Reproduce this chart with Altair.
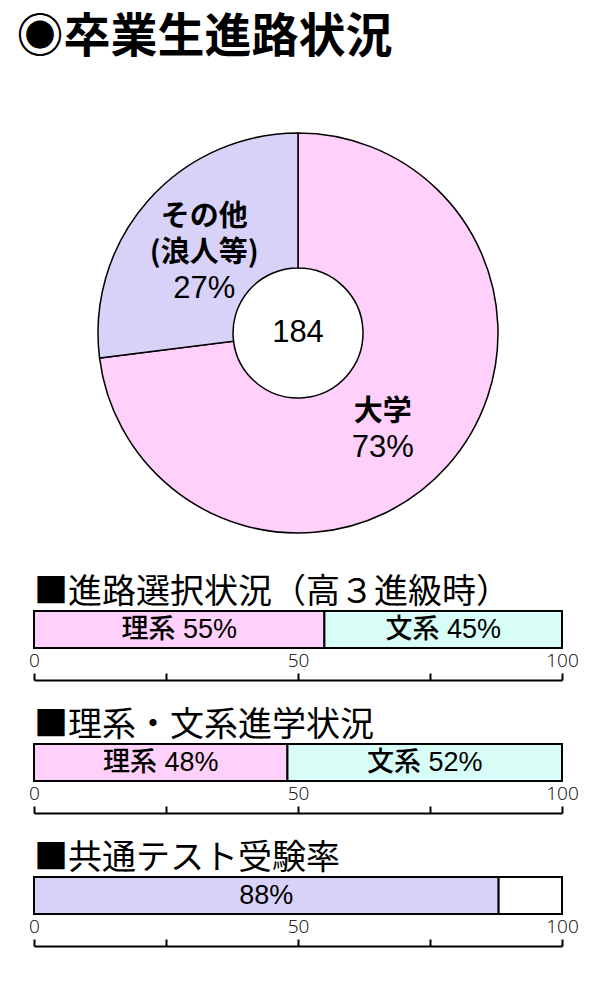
import altair as alt
import pandas as pd

# ---- data ----
main_title = "◉卒業生進路状況"
donut_cats = ["大学", "その他"]
donut_vals = [73, 27]
donut_label_lines = [["大学", "73%"], ["その他", "(浪人等)", "27%"]]
total_students = "184"

sec_titles = ["■進路選択状況（高３進級時）", "■理系・文系進学状況", "■共通テスト受験率"]
sec1_cats = ["理系", "文系"]
sec1_vals = [55, 45]
sec1_labels = ["理系 55%", "文系 45%"]
sec2_cats = ["理系", "文系"]
sec2_vals = [48, 52]
sec2_labels = ["理系 48%", "文系 52%"]
sec3_cats = ["受験", "未受験"]
sec3_vals = [88, 12]
sec3_labels = ["88%", ""]
axis_ticks = [0, 25, 50, 75, 100]

# ---- styles ----
PINK = "#FFD0FA"
LAV = "#D8D2F8"
CYAN = "#D8FCF6"
WHITE = "#FFFFFF"
JP = "Noto Sans CJK JP"
MIX = "Liberation Sans, Noto Sans CJK JP"
label_nudge = [(-9, 14), (0, 3)]  # per-slice label placement tweak (dx, dy)

# ---- donut ----
max_lines = max(len(l) for l in donut_label_lines)
ddf = pd.DataFrame({"cat": donut_cats, "val": donut_vals,
                    "order": list(range(len(donut_cats)))})
for j in range(max_lines):
    ddf[f"l{j}"] = [l[j] if j < len(l) else "" for l in donut_label_lines]

theta_scale = alt.Scale(domain=[0, 100])
arcs = alt.Chart(ddf).mark_arc(outerRadius=200, innerRadius=65, stroke="black",
                               strokeWidth=1.5).encode(
    theta=alt.Theta("val:Q", stack=True, scale=theta_scale),
    order=alt.Order("order:Q"),
    color=alt.Color("cat:N", scale=alt.Scale(domain=donut_cats, range=[PINK, LAV]), legend=None),
)

LH = 36
label_layers = []
for i, cat in enumerate(donut_cats):
    lines = donut_label_lines[i]
    n = len(lines)
    ndx, ndy = label_nudge[i]
    for j, line in enumerate(lines):
        is_pct = line.endswith("%")
        lay = alt.Chart(ddf).transform_stack(
            stack="val", groupby=[], as_=["a0", "a1"], sort=[alt.SortField("order")]
        ).transform_calculate(mid="(datum.a0 + datum.a1) / 2").transform_filter(
            alt.datum.cat == cat
        ).mark_text(
            radius=125, dx=ndx, dy=(j - (n - 1) / 2) * LH + ndy,
            font="Liberation Sans" if is_pct else JP,
            fontSize=31 if is_pct else 29,
            fontWeight="normal" if is_pct else "bold",
            color="black",
        ).encode(
            theta=alt.Theta("mid:Q", scale=theta_scale),
            text=alt.Text(f"l{j}:N"),
        )
        label_layers.append(lay)

center = alt.Chart(pd.DataFrame({"t": [total_students]})).mark_text(
    font="Liberation Sans", fontSize=31, color="black").encode(text="t:N")
donut = alt.layer(arcs, *label_layers, center).properties(width=528, height=400)


def section(title, cats, vals, labels, colors):
    df = pd.DataFrame({"cat": cats, "val": vals, "label": labels,
                       "order": list(range(len(cats))), "row": ["r"] * len(cats)})
    base = alt.Chart(df).transform_stack(
        stack="val", groupby=["row"], as_=["x0", "x1"], sort=[alt.SortField("order")]
    ).transform_calculate(mid="(datum.x0 + datum.x1) / 2")
    yenc = alt.Y("row:N", axis=None, scale=alt.Scale(paddingInner=0, paddingOuter=0))
    bars = base.mark_bar(stroke="black", strokeWidth=2).encode(
        x=alt.X("x0:Q", scale=alt.Scale(domain=[0, 100]),
                axis=alt.Axis(orient="top", offset=-69, values=axis_ticks,
                              labelExpr="datum.value % 50 == 0 ? datum.label : ''",
                              grid=False, title=None, domainColor="black", domainWidth=2,
                              tickColor="black", tickWidth=2, tickSize=7,
                              labelFontSize=19, labelColor="black", labelPadding=3,
                              labelFlush=False, labelFont="Open Sans", labelFontWeight=300)),
        x2="x1:Q",
        y=yenc,
        color=alt.Color("cat:N", scale=alt.Scale(domain=cats, range=colors), legend=None),
    )
    text = base.mark_text(font=MIX, fontSize=27, fontWeight=500, color="black").encode(
        x="mid:Q", y=yenc, text="label:N")
    return alt.layer(bars, text).properties(
        width=528, height=37,
        title=alt.TitleParams(title, anchor="start", frame="group", fontSize=34,
                              fontWeight="normal", font=JP, color="black", offset=0),
    )


s1 = section(sec_titles[0], sec1_cats, sec1_vals, sec1_labels, [PINK, CYAN])
s2 = section(sec_titles[1], sec2_cats, sec2_vals, sec2_labels, [PINK, CYAN])
s3 = section(sec_titles[2], sec3_cats, sec3_vals, sec3_labels, [LAV, WHITE])

bars_block = alt.vconcat(s1, s2, s3, spacing=28).resolve_scale(color="independent")

chart = alt.vconcat(donut, bars_block, spacing=40).resolve_scale(
    color="independent"
).properties(
    title=alt.TitleParams(main_title, anchor="start", fontSize=47, fontWeight="bold",
                          font=JP, color="black", offset=68, dx=-12),
    padding={"left": 8, "top": 6, "right": 5, "bottom": 5},
).configure_view(stroke=None)

chart.save("out.html", embed_options={"renderer": "svg", "actions": False})
